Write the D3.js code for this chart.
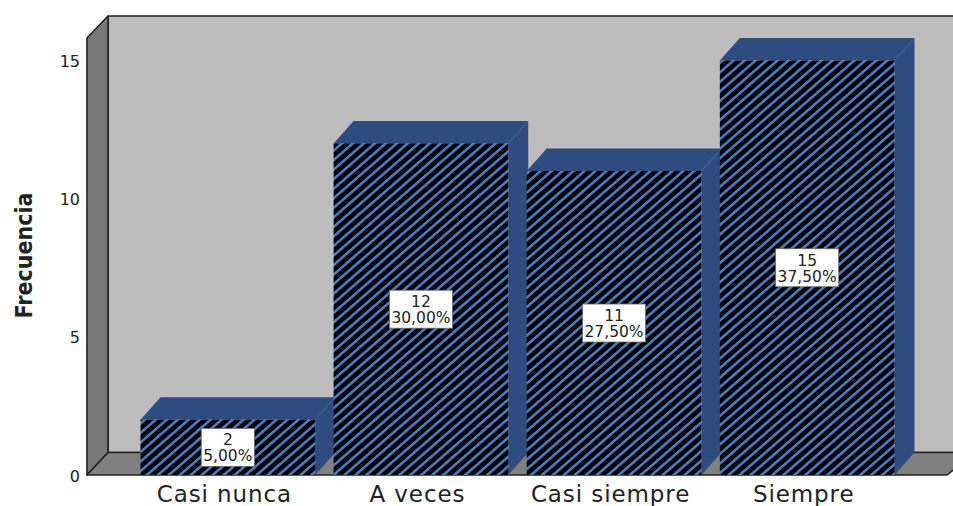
<!DOCTYPE html>
<html>
<head>
<meta charset="utf-8">
<script src="https://cdn.jsdelivr.net/npm/d3@7"></script>
<style>
  html, body { margin: 0; padding: 0; background: #fff; overflow: hidden; }
  svg { display: block; }
  text { font-family: "DejaVu Sans", sans-serif; fill: #222; }
</style>
</head>
<body>
<svg id="chart" width="953" height="506"></svg>
<script>
// Frequency table
const categories = ["Casi nunca", "A veces", "Casi siempre", "Siempre"];
const frequencies = [2, 12, 11, 15];
const percentages = ["5,00%", "30,00%", "27,50%", "37,50%"];
const yTicks = [0, 5, 10, 15];

const svg = d3.select("#chart");

// 3D depth offset shared by the walls and the bars
const depthX = 20, depthY = -22.5;

const x = d3.scaleBand().domain(categories).range([140.5, 894.5]).paddingInner(0.0955);
const y = d3.scaleLinear().domain([0, 15]).range([475, 60.5]);

// Hatched fill for the bar fronts
const hatchPeriod = 7.2, hatchLine = 2.6;
const pattern = svg.append("defs").append("pattern")
  .attr("id", "hatch")
  .attr("patternUnits", "userSpaceOnUse")
  .attr("width", hatchPeriod).attr("height", hatchPeriod)
  .attr("patternTransform", "rotate(-41)");
pattern.append("rect").attr("width", hatchPeriod).attr("height", hatchPeriod).attr("fill", "#000");
pattern.append("rect").attr("width", hatchPeriod).attr("height", hatchLine).attr("fill", "#4c7cc4");

const poly = pts => d3.line()(pts) + "Z";

// Chart box: back wall, left wall, floor
const wallL = 87, wallTopFront = 38, wallBackL = wallL + depthX + 1;
const wallRight = 975;
const floorY = y(0), backFloorY = floorY + depthY;
const box = svg.append("g").attr("stroke", "#222").attr("stroke-width", 1.6).attr("stroke-linejoin", "round");
box.append("path").attr("fill", "#bdbdbd")
  .attr("d", poly([[wallBackL, 16], [wallRight, 16], [wallRight, backFloorY], [wallBackL, backFloorY]]));
box.append("path").attr("fill", "#787878")
  .attr("d", poly([[wallL, wallTopFront], [wallBackL, 16], [wallBackL, backFloorY], [wallL, floorY]]));
box.append("path").attr("fill", "#808080")
  .attr("d", poly([[wallL, floorY], [wallBackL, backFloorY], [wallRight, backFloorY], [wallRight - 28, floorY]]));

// Bars, left to right so each front overlaps the previous side face
const bars = svg.append("g").selectAll("g").data(categories).join("g");
bars.each(function (c, i) {
  const g = d3.select(this);
  const x0 = x(c), x1 = x0 + x.bandwidth(), yt = y(frequencies[i]), yb = y(0);
  g.append("path").attr("fill", "#2f4c80")
    .attr("d", poly([[x0, yt], [x0 + depthX, yt + depthY], [x1 + depthX, yt + depthY], [x1, yt]]));
  g.append("path").attr("fill", "#2f4c80")
    .attr("d", poly([[x1, yt], [x1 + depthX, yt + depthY], [x1 + depthX, yb + depthY], [x1, yb]]));
  g.append("rect").attr("x", x0).attr("y", yt)
    .attr("width", x.bandwidth()).attr("height", yb - yt)
    .attr("fill", "url(#hatch)");
});

// Value and percentage boxes at mid-height of each bar
bars.each(function (c, i) {
  const g = d3.select(this);
  const cx = x(c) + x.bandwidth() / 2, cy = y(frequencies[i] / 2);
  const lbl = g.append("g");
  const bg = lbl.append("rect").attr("fill", "#fff").attr("stroke", "#666").attr("stroke-width", 0.8);
  const t = lbl.append("text").attr("text-anchor", "middle").attr("font-size", 15.5);
  t.append("tspan").attr("x", cx).attr("y", cy - 2).text(frequencies[i]);
  t.append("tspan").attr("x", cx).attr("y", cy + 14).text(percentages[i]);
  const w = t.node().getBBox().width + 4;
  bg.attr("x", cx - w / 2).attr("y", cy - 19).attr("width", w).attr("height", 38);
});

// Frequency axis
const yAxis = svg.append("g").attr("transform", "translate(80,1)")
  .call(d3.axisLeft(y).tickValues(yTicks).tickSize(0).tickPadding(0));
yAxis.select(".domain").remove();
yAxis.selectAll("text").attr("font-size", 16).attr("font-family", '"DejaVu Sans", sans-serif').attr("fill", "#222");

// Category axis
const xAxis = svg.append("g").attr("transform", `translate(-3.5,${floorY})`)
  .call(d3.axisBottom(x).tickSize(0).tickPadding(11));
xAxis.select(".domain").remove();
xAxis.selectAll("text").attr("font-size", 23).attr("letter-spacing", 0.9)
  .attr("font-family", '"DejaVu Sans", sans-serif').attr("fill", "#222");

// Axis title
svg.append("text").attr("transform", "translate(31.5,255.5) rotate(-90)")
  .attr("text-anchor", "middle").attr("font-size", 23).attr("font-weight", "bold")
  .style("font-stretch", "condensed")
  .text("Frecuencia");
</script>
</body>
</html>
